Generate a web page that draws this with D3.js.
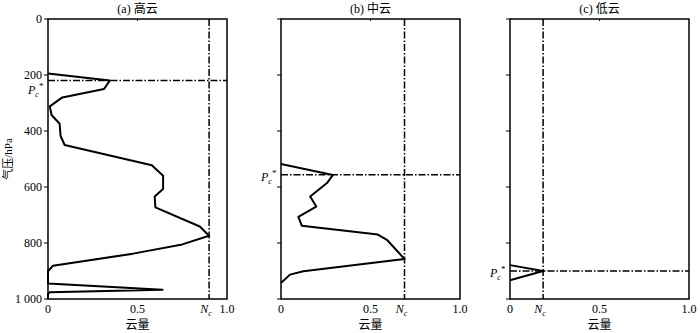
<!DOCTYPE html>
<html>
<head>
<meta charset="utf-8">
<script src="https://cdn.jsdelivr.net/npm/d3@7"></script>
<style>
  body { margin: 0; background: #fff; }
  svg { display: block; }
  text { font-family: "Liberation Serif", "Noto Sans CJK SC", serif; font-size: 11px; fill: #000; }
</style>
</head>
<body>
<svg id="chart" width="700" height="333"></svg>
<script>
// cloud amount profiles, [cloud amount, pressure hPa]
var highCloud = [[0,195],[0.345,220],[0.313,250],[0.08,280],[0.01,312],[0.02,343],[0.065,374],[0.07,417],
    [0.093,450],[0.58,522],[0.643,560],[0.643,607],[0.596,634],[0.6,673],[0.848,741],[0.9,774],
    [0.75,805],[0.475,838],[0.028,881],[0,901],[0,945],[0.64,967],[0.01,976],[0,981],[0,1000]];
var midCloud = [[0,518],[0.29,557],[0.257,586],[0.163,634],[0.197,670],[0.097,707],[0.116,738],
    [0.541,770],[0.594,790],[0.69,857],[0.125,901],[0.05,913],[0,943]];
var lowCloud = [[0,879],[0.185,900],[0,933]];

var titles = ["(a) 高云", "(b) 中云", "(c) 低云"];
var neValues = [0.9, 0.69, 0.185];
var pcValues = [220, 556, 900];
var pressureTicks = [0, 200, 400, 600, 800, 1000];
var amountTicks = [0, 0.5, 1.0];

var panelLeft = [48, 281, 510];
var panelW = 179;
var plotTop = 19, plotBottom = 299;
var dash = "7,2,1.5,2";

var svg = d3.select("#chart");
var y = d3.scaleLinear().domain([0, 1000]).range([plotTop, plotBottom]);
var profiles = [highCloud, midCloud, lowCloud];

profiles.forEach(function (data, i) {
    var x = d3.scaleLinear().domain([0, 1]).range([panelLeft[i], panelLeft[i] + panelW]);
    var g = svg.append("g");

    // frame
    g.append("rect")
        .attr("x", x(0)).attr("y", y(0))
        .attr("width", x(1) - x(0)).attr("height", y(1000) - y(0))
        .attr("fill", "none").attr("stroke", "#000").attr("stroke-width", 1.5);

    // left ticks
    g.selectAll(".yt").data(pressureTicks).enter().append("line")
        .attr("x1", x(0) - 4).attr("x2", x(0))
        .attr("y1", d => y(d)).attr("y2", d => y(d))
        .attr("stroke", "#000").attr("stroke-width", 1);
    if (i == 0) {
        g.selectAll(".yl").data(pressureTicks).enter().append("text")
            .attr("x", x(0) - 6).attr("y", d => y(d) + 4)
            .attr("text-anchor", "end")
            .style("font-size", "12px")
            .text(d => d >= 1000 ? "1 000" : d);
        g.append("text")
            .attr("transform", "translate(12," + y(500) + ") rotate(-90)")
            .attr("text-anchor", "middle")
            .text("气压/hPa");
    }

    // top tick at 0.5
    g.append("line").attr("x1", x(0.5)).attr("x2", x(0.5))
        .attr("y1", y(0)).attr("y2", y(0) + 2).attr("stroke", "#000");

    // x tick labels
    g.selectAll(".xl").data(amountTicks).enter().append("text")
        .attr("x", d => x(d)).attr("y", y(1000) + 14)
        .attr("text-anchor", "middle")
        .style("font-size", "12px")
        .text(d => d == 0 ? "0" : d3.format(".1f")(d));

    var ne = g.append("text")
        .attr("x", x(neValues[i]) - 3).attr("y", y(1000) + 14)
        .attr("text-anchor", "middle")
        .style("font-style", "italic").style("font-size", "12px");
    ne.append("tspan").text("N");
    ne.append("tspan").attr("dy", 3).style("font-size", "8px").text("c");

    g.append("text")
        .attr("x", (x(0) + x(1)) / 2).attr("y", 329)
        .attr("text-anchor", "middle")
        .style("font-size", "12px")
        .text("云量");

    g.append("text")
        .attr("x", (x(0) + x(1)) / 2).attr("y", 13)
        .attr("text-anchor", "middle")
        .style("font-size", "12px")
        .text(titles[i]);

    // Ne and Pc reference lines
    g.append("line")
        .attr("x1", x(neValues[i])).attr("x2", x(neValues[i]))
        .attr("y1", y(0)).attr("y2", y(1000))
        .attr("stroke", "#000").attr("stroke-width", 1.5).attr("stroke-dasharray", dash);
    g.append("line")
        .attr("x1", x(0)).attr("x2", x(1))
        .attr("y1", y(pcValues[i])).attr("y2", y(pcValues[i]))
        .attr("stroke", "#000").attr("stroke-width", 1.5).attr("stroke-dasharray", dash);

    var pc = g.append("text")
        .attr("x", x(0) - 20).attr("y", y(pcValues[i]) + (i == 0 ? 13 : 6))
        .attr("text-anchor", "start")
        .style("font-style", "italic").style("font-size", "12px");
    pc.append("tspan").text("P");
    pc.append("tspan").attr("dy", 3).style("font-size", "8px").text("c");
    pc.append("tspan").attr("dy", -8).style("font-size", "9px").style("font-style", "normal").text("*");

    // profile
    var line = d3.line().x(d => x(d[0])).y(d => y(d[1]));
    g.append("path")
        .datum(data)
        .attr("d", line)
        .attr("fill", "none")
        .attr("stroke", "#000")
        .attr("stroke-width", 2)
        .attr("stroke-linejoin", "round");
});
</script>
</body>
</html>
